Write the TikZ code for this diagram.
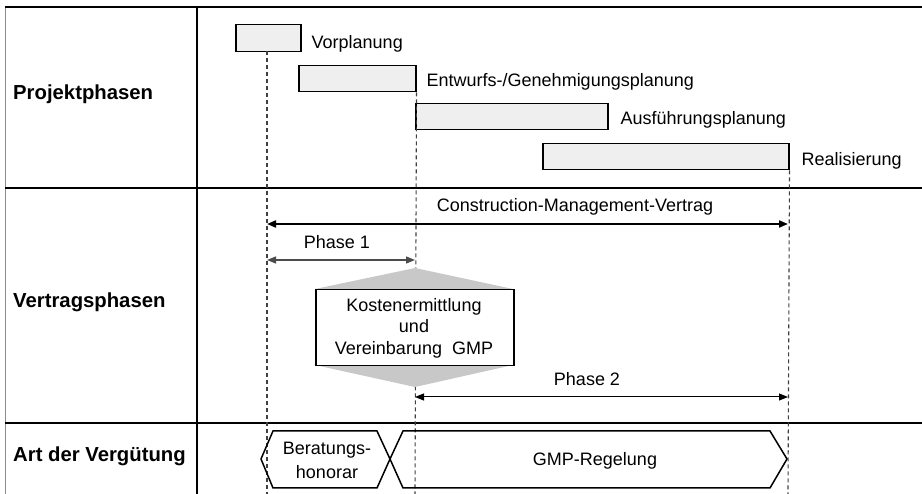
\documentclass[tikz,border=0pt]{standalone}
\usepackage{fontspec}
\setmainfont{Liberation Sans}
\usetikzlibrary{arrows.meta}
\definecolor{boxfill}{HTML}{EFEFEF}
\definecolor{hexgray}{HTML}{C8C8C8}
\definecolor{dashgray}{HTML}{404040}
\tikzset{
  frame/.style={line width=2pt, black},
  pbox/.style={draw=black, line width=1.5pt, fill=boxfill, anchor=north west, inner sep=0pt},
  plabel/.style={anchor=west, font=\fontsize{18}{21}\selectfont, inner sep=0pt},
  rowlabel/.style={anchor=west, font=\fontsize{20.3}{23}\selectfont\bfseries, inner sep=0pt},
  txt/.style={font=\fontsize{18}{21}\selectfont, inner sep=0pt, align=center},
  vdash/.style={dashgray, line width=1.1pt, dash pattern=on 4pt off 3pt},
  bigarrow/.style={line width=2pt, {Triangle[length=9pt,width=7pt]}-{Triangle[length=9pt,width=7pt]}},
  midarrow/.style={line width=1.3pt, black!70, {Triangle[length=9pt,width=7pt]}-{Triangle[length=9pt,width=7pt]}},
  smallarrow/.style={line width=1pt, black, {Triangle[length=9pt,width=7pt]}-{Triangle[length=9pt,width=7pt]}},
  hexline/.style={draw=black, line width=1.5pt, line join=miter}
}
\begin{document}
\begin{tikzpicture}[x=1pt,y=-1pt]
\useasboundingbox (0,0) rectangle (922,494);
% frame
\draw[line width=1pt, black!45] (5,7) -- (5,494);
\draw[frame] (5,7) -- (922,7);
\draw[frame] (5,188) -- (922,188);
\draw[frame] (5,423.5) -- (922,423.5);
\draw[frame] (197,7) -- (197,494);
% row labels
\node[rowlabel] (rp) at (13,94) {Projektphasen};
\node[rowlabel] (rv) at (13,302) {Vertragsphasen};
\node[rowlabel] (ra) at (13,456) {Art der Vergütung};
% project phase boxes
\node[pbox, minimum width=65pt, minimum height=27pt] (vp) at (235,24) {};
\node[pbox, minimum width=117pt, minimum height=26pt] (ew) at (298,65) {};
\node[pbox, minimum width=192pt, minimum height=26pt] (af) at (415,103) {};
\node[pbox, minimum width=246pt, minimum height=26pt] (re) at (542,143) {};
\node[plabel] (vpl) at ([shift={(10,6)}]vp.east) {Vorplanung};
\node[plabel] (ewl) at ([shift={(10,3)}]ew.east) {Entwurfs-/Genehmigungsplanung};
\node[plabel] (afl) at ([shift={(12,3)}]af.east) {Ausführungsplanung};
\node[plabel] (rel) at ([shift={(12,4)}]re.east) {Realisierung};
% dashed verticals
\coordinate (b1) at (267,494);
\coordinate (b2) at (415,494);
\coordinate (b3) at (788,494);
\draw[vdash] (267,51) -- (b1);
\draw[vdash] (ew.south east) -- (b2);
\draw[vdash] (re.south east) -- (b3);
% contract phases
\coordinate (c1) at (267,224);
\coordinate (c2) at (788,224);
\draw[bigarrow] (c1) -- (c2);
\node[txt] (cmv) at (575,207) {Construction-Management-Vertrag};
\coordinate (p1a) at (267,260);
\coordinate (p1b) at (415,260);
\draw[midarrow] (p1a) -- (p1b);
\node[txt] (ph1) at (337,242) {Phase 1};
\fill[hexgray] (415,268) -- (513,289) -- (513,365) -- (415,387) -- (315,365) -- (315,289) -- cycle;
\node[draw=black, line width=1.5pt, fill=white, minimum width=198pt, minimum height=76pt, inner sep=0pt, anchor=north west] (kv) at (315,289) {};
\node[txt, font=\fontsize{18}{21.5}\selectfont] (kvt) at (414,328) {Kostenermittlung\\und\\Vereinbarung\ \ GMP};
\coordinate (p2a) at (415,397);
\coordinate (p2b) at (788,397);
\draw[smallarrow] (p2a) -- (p2b);
\node[txt] (ph2) at (587,379) {Phase 2};
% remuneration
\draw[hexline] (261,459) -- (273,431) -- (377,431) -- (390,459) -- (377,488) -- (273,488) -- cycle;
\draw[hexline] (390,459) -- (403,431) -- (770,431) -- (787,459) -- (770,488) -- (403,488) -- cycle;
\node[txt, font=\fontsize{18}{24}\selectfont] (bh) at (327,460) {Beratungs-\\honorar};
\node[txt] (gmp) at (595,461) {GMP-Regelung};
\end{tikzpicture}
\end{document}
